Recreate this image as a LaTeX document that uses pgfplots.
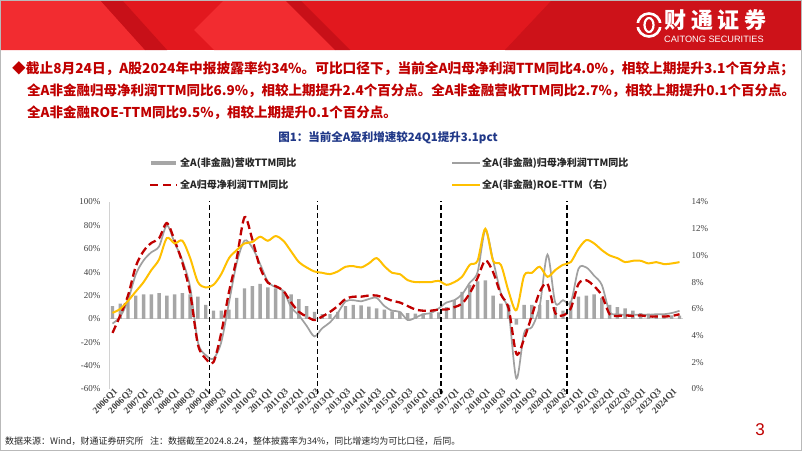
\documentclass[border=0pt]{standalone}
\usepackage{pgfplots}
\pgfplotsset{compat=1.18}
\usepackage{pgfplotstable}
\usepackage{fontspec}
\setmainfont{Noto Sans CJK SC}
\newfontfamily\tnr{Liberation Serif}
\newfontfamily\arial{Liberation Sans}
\definecolor{barg}{RGB}{166,166,166}
\definecolor{lineg}{RGB}{160,160,160}
\definecolor{redc}{RGB}{192,0,0}
\definecolor{yelc}{RGB}{255,192,0}
\definecolor{txtred}{RGB}{192,0,0}
\definecolor{ttlblue}{RGB}{32,56,136}
\definecolor{tickc}{RGB}{64,64,64}
\definecolor{bnA}{RGB}{226,24,30}
\definecolor{bnL}{RGB}{242,44,48}
\definecolor{bnD}{RGB}{200,16,24}
\pgfplotstableread{
i bar gray red roe
0 11 -4 -12 5.7
1 13 2 3 6.0
2 18 16 20 6.6
3 20 38 45 7.3
4 21 50 58 8.0
5 21 57 65 8.9
6 22 62 69 9.7
7 20 80 82 11.3
8 21 65 67 10.9
9 22 50 48 11.1
10 21 27 22 9.8
11 19 -20 -22 8.0
12 12 -31 -34 7.6
13 7 -34 -37 7.8
14 7 -20 -12 8.6
15 8 14 23 9.8
16 18 48 52 10.4
17 26 67 87 10.9
18 28 61 68 11.0
19 30 47 44 11.4
20 27 32 31 11.1
21 26 27 28 11.45
22 24 24 24 11.1
23 21 10 14 10.3
24 17 3 6 9.5
25 11 -6 2 9.1
26 6 -15 -1 8.8
27 4 -8 2 8.7
28 4 -3 6 8.6
29 6 5 11 8.8
30 11 15 17 9.15
31 12 16 19 9.2
32 11.5 15 19 9.1
33 10.5 17 20 9.4
34 9 18 20 9.8
35 8 11 18 9.2
36 6.5 7 15.5 8.7
37 6 6 14 8.6
38 5 -1 11 8.15
39 4.5 1 8 8.0
40 4.5 4 7 8.0
41 4.5 5 7 8.0
42 5.5 9 8 8.1
43 10 14 8 7.8
44 16 16 10 8.0
45 23 21 13 8.4
46 29 31 22 9.3
47 32 40 35 9.6
48 33 76 50 12.0
49 20 50 40 9.6
50 13 22 21 9.3
51 12 6 9 7.3
52 -5 -51 -30 5.9
53 12 -12 -17 8.5
54 12 -7 3 8.7
55 12 11 23 9.15
56 16 55 30 8.4
57 10 14 5 8.9
58 7 16 3 9.3
59 15 14 9 9.5
60 19 43 30 10.5
61 20 44 33 11.15
62 21 37 28 10.9
63 18 29 20 10.4
64 12 6 4 10.0
65 10 4 2.5 9.8
66 9 3.5 3 9.5
67 7 3.5 2.5 9.6
68 5 3.5 3 9.6
69 4.5 3.5 2 9.4
70 3.5 4 2 9.5
71 3 4 2 9.35
72 3 5 2.5 9.4
73 2.7 6.9 4.0 9.5
}\data
\begin{document}
\begin{tikzpicture}
\begin{scope}[x=1pt,y=1pt]
\useasboundingbox (0,0) rectangle (802,451);
\fill[white] (0,0) rectangle (802,451);
% banner
\fill[bnA] (0,401) rectangle (802,451);
\fill[bnL] (0,451) -- (100,451) -- (145,401) -- (0,401) -- cycle;
\fill[bnD] (100,451) -- (122,451) -- (167,401) -- (145,401) -- cycle;
\fill[bnL] (194,421) -- (224,451) -- (285,451) -- (335,401) -- (214,401) -- cycle;
\fill[bnD] (285,451) -- (300,451) -- (350,401) -- (335,401) -- cycle;
\fill[bnD!80!bnA] (552,451) -- (802,451) -- (802,401) -- (505,401) -- cycle;
% logo
\draw[white, line width=2.6pt] (649,426) circle (11.5);
\fill[bnD!80!bnA] (636,424) rectangle (662,428);
\draw[white, line width=2.2pt] (649,426) ellipse (4.5 and 7);
\node[anchor=west, inner sep=0, text=white, font=\bfseries\fontsize{22}{24}\selectfont\addfontfeature{LetterSpace=22}] at (664,431) {财通证券};
\node[anchor=west, inner sep=0, text=white, font=\arial\fontsize{9.2}{10}\selectfont] at (664,412) {CAITONG SECURITIES};
% frame
\draw[gray!55, line width=0.8pt] (0.4,0.4) rectangle (801.6,450.6);
% text
\node[anchor=west, inner sep=0, text=txtred, font=\bfseries\fontsize{13.7}{15}\selectfont] at (12,382) {◆截止8月24日，A股2024年中报披露率约34\%。可比口径下，当前全A归母净利润TTM同比4.0\%，相较上期提升3.1个百分点；};
\node[anchor=west, inner sep=0, text=txtred, font=\bfseries\fontsize{13.5}{15}\selectfont] at (27,360) {全A非金融归母净利润TTM同比6.9\%，相较上期提升2.4个百分点。全A非金融营收TTM同比2.7\%，相较上期提升0.1个百分点。};
\node[anchor=west, inner sep=0, text=txtred, font=\bfseries\fontsize{13.5}{15}\selectfont] at (27,338) {全A非金融ROE-TTM同比9.5\%，相较上期提升0.1个百分点。};
\node[inner sep=0, text=ttlblue, font=\bfseries\fontsize{11.5}{13}\selectfont] at (388,313) {图1：当前全A盈利增速较24Q1提升3.1pct};
% legend
\fill[barg] (151,286) rectangle (176,290.5);
\node[anchor=west, inner sep=0, font=\bfseries\fontsize{10}{11}\selectfont, text=black!85] at (180,288) {全A(非金融)营收TTM同比};
\draw[lineg, line width=1.7pt] (452,288) -- (480,288);
\node[anchor=west, inner sep=0, font=\bfseries\fontsize{10}{11}\selectfont, text=black!85] at (482,288) {全A(非金融)归母净利润TTM同比};
\draw[redc, line width=2.3pt, dash pattern=on 8pt off 5pt] (150,266) -- (177,266);
\node[anchor=west, inner sep=0, font=\bfseries\fontsize{10}{11}\selectfont, text=black!85] at (180,266) {全A归母净利润TTM同比};
\draw[yelc, line width=2pt] (452,266) -- (480,266);
\node[anchor=west, inner sep=0, font=\bfseries\fontsize{10}{11}\selectfont, text=black!85] at (482,266) {全A(非金融)ROE-TTM（右）};
% footer
\node[anchor=west, inner sep=0, font=\fontsize{9}{10}\selectfont, text=black!85] at (5,10) {数据来源：Wind，财通证券研究所};
\node[anchor=west, inner sep=0, font=\fontsize{9}{10}\selectfont, text=black!85] at (150,10) {注：数据截至2024.8.24，整体披露率为34\%，同比增速均为可比口径，后同。};
\node[inner sep=0, text=redc, font=\arial\fontsize{17}{18}\selectfont] at (760,21) {3};
\end{scope}
\begin{axis}[
  at={(109pt,62pt)}, anchor=south west,
  width=574pt, height=187pt, scale only axis,
  xmin=-0.45, xmax=73.45, ymin=-60, ymax=100,
  axis x line*=bottom, axis y line*=left,
  x axis line style={draw=none},
  y axis line style={-, draw=gray!35, line width=0.8pt},
  major tick length=0pt,
  xtick={0,2,...,72},
  xticklabels={2006Q1,2006Q3,2007Q1,2007Q3,2008Q1,2008Q3,2009Q1,2009Q3,2010Q1,2010Q3,2011Q1,2011Q3,2012Q1,2012Q3,2013Q1,2013Q3,2014Q1,2014Q3,2015Q1,2015Q3,2016Q1,2016Q3,2017Q1,2017Q3,2018Q1,2018Q3,2019Q1,2019Q3,2020Q1,2020Q3,2021Q1,2021Q3,2022Q1,2022Q3,2023Q1,2023Q3,2024Q1},
  x tick label style={font=\tnr\bfseries\fontsize{9.3}{10}\selectfont, text=tickc, rotate=45, anchor=east, inner sep=0.5pt, yshift=-4pt, xshift=2pt},
  ytick={-60,-40,...,100},
  yticklabels={-60\%,-40\%,-20\%,0\%,20\%,40\%,60\%,80\%,100\%},
  y tick label style={font=\tnr\fontsize{9}{10}\selectfont, text=tickc, xshift=-5pt},
  extra y ticks={0}, extra y tick labels={},
  extra y tick style={grid=major, major grid style={draw=gray!35, line width=0.8pt}},
  clip=false,
]
\addplot[ybar, bar width=3.4pt, fill=barg, draw=none] table[x=i,y=bar]{\data};
\addplot[lineg, line width=1.7pt, smooth, no markers] table[x=i,y=gray]{\data};
\addplot[redc, line width=2.3pt, dash pattern=on 8pt off 4pt, smooth, no markers] table[x=i,y=red]{\data};
\addplot[black, line width=1.3pt, dash pattern=on 5pt off 3pt, no markers] coordinates {(12.5,-64) (12.5,101)};
\addplot[black, line width=1.3pt, dash pattern=on 5pt off 3pt, no markers] coordinates {(26.4,-64) (26.4,101)};
\addplot[black, line width=1.3pt, dash pattern=on 5pt off 3pt, no markers] coordinates {(42.3,-64) (42.3,101)};
\addplot[black, line width=1.3pt, dash pattern=on 5pt off 3pt, no markers] coordinates {(58.5,-64) (58.5,101)};
\end{axis}
\begin{axis}[
  at={(109pt,62pt)}, anchor=south west,
  width=574pt, height=187pt, scale only axis,
  xmin=-0.45, xmax=73.45, ymin=0, ymax=14,
  axis x line=none, axis y line*=right,
  y axis line style={draw=none},
  major tick length=0pt,
  ytick={0,2,...,14},
  yticklabels={0\%,2\%,4\%,6\%,8\%,10\%,12\%,14\%},
  y tick label style={font=\tnr\fontsize{9}{10}\selectfont, text=tickc, xshift=5pt},
  clip=false,
]
\addplot[yelc, line width=2pt, smooth, no markers] table[x=i,y=roe]{\data};
\end{axis}
\end{tikzpicture}
\end{document}
